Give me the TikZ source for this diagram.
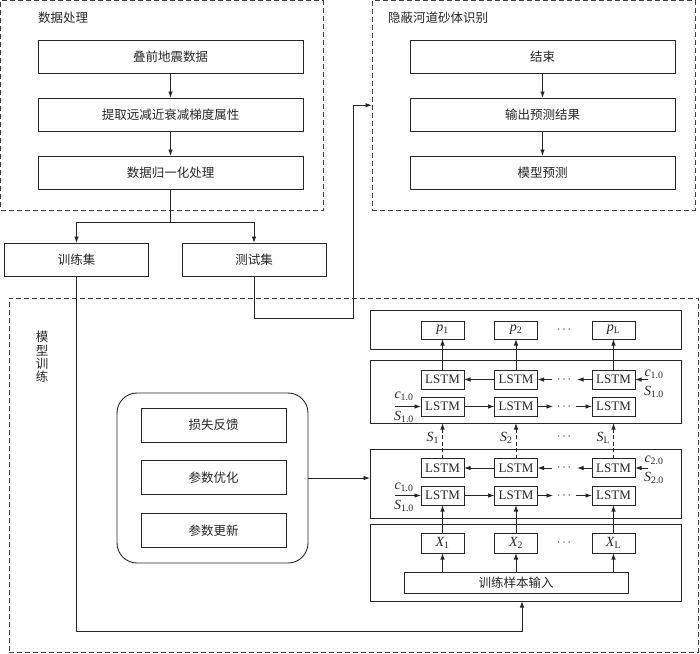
\documentclass[tikz,border=0pt]{standalone}
\usepackage{fontspec}
\setmainfont{Liberation Serif}
\newfontfamily\cjk{Noto Sans CJK SC}
\usetikzlibrary{arrows.meta}
\begin{document}
\begin{tikzpicture}[x=1pt,y=-1pt,
  every node/.style={inner sep=0pt,outer sep=0pt,text=black!85},
  panel/.style={draw=black!75,line width=0.8pt,dash pattern=on 5pt off 3pt},
  box/.style={draw=black!85,line width=0.9pt,font=\cjk\fontsize{12.5}{14}\selectfont},
  frame/.style={draw=black!85,line width=0.9pt},
  sbox/.style={draw=black!85,line width=0.9pt,minimum width=43pt,minimum height=19pt,font=\fontsize{13}{14}\selectfont},
  vbox/.style={sbox,font=\fontsize{14}{14}\selectfont},
  lbl/.style={font=\fontsize{14}{14}\selectfont},
  ttl/.style={font=\cjk\fontsize{12.5}{14}\selectfont},
  arr/.style={draw=black!85,line width=0.9pt,-{Latex[length=6.5pt,width=4.5pt]}},
  darr/.style={arr,dash pattern=on 4pt off 2.5pt},
  dots/.style={font=\fontsize{12}{14}\selectfont}
]
\useasboundingbox (0,0) rectangle (700,653);

% ---------- panels ----------
\node[panel,minimum width=322.5pt,minimum height=209.5pt] (TL) at (161.75,105.25) {};
\node[panel,minimum width=323pt,minimum height=209.5pt] (TR) at (533.5,105.25) {};
\node[panel,minimum width=689pt,minimum height=354pt] (BP) at (353.5,475) {};

\node[ttl,anchor=west] (t1) at (38,18) {数据处理};
\node[ttl,anchor=west] (t2) at (388,18) {隐蔽河道砂体识别};
\node[ttl,align=center,font=\cjk\fontsize{12.5}{13.3}\selectfont] (t3) at (42,357) {模\\型\\训\\练};

% ---------- data processing ----------
\node[box,minimum width=265pt,minimum height=33pt] (d1) at (170.5,56.5) {叠前地震数据};
\node[box,minimum width=265pt,minimum height=33pt] (d2) at (170.5,114.5) {提取远减近衰减梯度属性};
\node[box,minimum width=265pt,minimum height=33pt] (d3) at (170.5,172.5) {数据归一化处理};
\draw[arr] (d1) -- (d2);
\draw[arr] (d2) -- (d3);

\node[box,minimum width=144pt,minimum height=33pt] (train) at (76.5,259.5) {训练集};
\node[box,minimum width=144pt,minimum height=33pt] (test) at (254,259.5) {测试集};
\coordinate (split) at (170.5,222);
\draw[draw=black!85,line width=0.9pt] (d3.south) -- (split);
\draw[arr] (split) -| (train.north);
\draw[arr] (split) -| (test.north);

% ---------- recognition ----------
\node[box,minimum width=265pt,minimum height=33pt] (r1) at (542.5,56.5) {结束};
\node[box,minimum width=265pt,minimum height=33pt] (r2) at (542.5,114.5) {输出预测结果};
\node[box,minimum width=265pt,minimum height=33pt] (r3) at (542.5,172.5) {模型预测};
\draw[arr] (r1) -- (r2);
\draw[arr] (r2) -- (r3);

\coordinate (tbend) at (353,318);
\draw[arr] (test.south) |- (tbend) |- (TR.west);

% ---------- training loop box ----------
\node[draw=black!85,line width=0.9pt,rounded corners=20pt,minimum width=191pt,minimum height=170pt] (rb) at (212.5,478) {};
\node[box,minimum width=145pt,minimum height=34pt] (f1) at (213.5,425) {损失反馈};
\node[box,minimum width=145pt,minimum height=34pt] (f2) at (213.5,477.5) {参数优化};
\node[box,minimum width=145pt,minimum height=34pt] (f3) at (213.5,530.5) {参数更新};

% ---------- network frames ----------
\node[frame,minimum width=311pt,minimum height=39pt] (P) at (525.5,329.5) {};
\node[frame,minimum width=311pt,minimum height=63pt] (L1) at (525.5,391.5) {};
\node[frame,minimum width=311pt,minimum height=69pt] (L2) at (525.5,483.5) {};
\node[frame,minimum width=311pt,minimum height=77pt] (L3) at (525.5,562.5) {};

\draw[arr] (rb.east) -- (rb.east -| L2.west);

% outputs
\node[vbox,minimum height=18pt] (p1) at (442.5,330) {{\itshape p}\textsubscript{1}};
\node[vbox,minimum height=18pt] (p2) at (516,330) {{\itshape p}\textsubscript{2}};
\node[vbox,minimum height=18pt] (pL) at (613.5,330) {{\itshape p}\textsubscript{L}};
\node[dots] (dp) at (564,330) {$\cdots$};

% layer 1
\node[sbox] (u1a) at (442.5,379.5) {LSTM};
\node[sbox] (u1b) at (516,379.5) {LSTM};
\node[sbox] (u1c) at (613.5,379.5) {LSTM};
\node[sbox] (l1a) at (442.5,406.5) {LSTM};
\node[sbox] (l1b) at (516,406.5) {LSTM};
\node[sbox] (l1c) at (613.5,406.5) {LSTM};
\node[dots] (du1) at (564,379.5) {$\cdots$};
\node[dots] (dl1) at (564,406.5) {$\cdots$};

\draw[arr] (u1a.north) -- (p1.south);
\draw[arr] (u1b.north) -- (p2.south);
\draw[arr] (u1c.north) -- (pL.south);

\coordinate (u1d) at (552,379.5);
\coordinate (u1e) at (577,379.5);
\draw[arr] (u1b.west) -- (u1a.east);
\draw[arr] (u1d) -- (u1b.east);
\draw[arr] (u1c.west) -- (u1e);
\coordinate (l1d) at (553,406.5);
\coordinate (l1e) at (576,406.5);
\draw[arr] (l1a.east) -- (l1b.west);
\draw[arr] (l1b.east) -- (l1d);
\draw[arr] (l1e) -- (l1c.west);

\coordinate (in1l) at (395,406.5);
\coordinate (in1r) at (648,379.5);
\draw[arr] (in1l) -- (l1a.west);
\draw[arr] (in1r) -- (u1c.east);
\node[lbl] (c1l) at (404,396) {{\itshape c}\textsubscript{1.0}};
\node[lbl] (s1l) at (404,417) {{\itshape S}\textsubscript{1.0}};
\node[lbl] (c1r) at (654,374) {{\itshape c}\textsubscript{1.0}};
\node[lbl] (s1r) at (654,392) {{\itshape S}\textsubscript{1.0}};

% layer 2
\node[sbox] (u2a) at (442.5,468) {LSTM};
\node[sbox] (u2b) at (516,468) {LSTM};
\node[sbox] (u2c) at (613.5,468) {LSTM};
\node[sbox] (l2a) at (442.5,495.5) {LSTM};
\node[sbox] (l2b) at (516,495.5) {LSTM};
\node[sbox] (l2c) at (613.5,495.5) {LSTM};
\node[dots] (du2) at (564,468) {$\cdots$};
\node[dots] (dl2) at (564,495.5) {$\cdots$};

\coordinate (u2d) at (552,468);
\coordinate (u2e) at (577,468);
\draw[arr] (u2b.west) -- (u2a.east);
\draw[arr] (u2d) -- (u2b.east);
\draw[arr] (u2c.west) -- (u2e);
\coordinate (l2d) at (553,495.5);
\coordinate (l2e) at (576,495.5);
\draw[arr] (l2a.east) -- (l2b.west);
\draw[arr] (l2b.east) -- (l2d);
\draw[arr] (l2e) -- (l2c.west);

\coordinate (in2l) at (395,495.5);
\coordinate (in2r) at (648,468);
\draw[arr] (in2l) -- (l2a.west);
\draw[arr] (in2r) -- (u2c.east);
\node[lbl] (c2l) at (404,487) {{\itshape c}\textsubscript{1.0}};
\node[lbl] (s2l) at (404,506) {{\itshape S}\textsubscript{1.0}};
\node[lbl] (c2r) at (654,460) {{\itshape c}\textsubscript{2.0}};
\node[lbl] (s2r) at (654,478) {{\itshape S}\textsubscript{2.0}};

% dashed links between layers
\draw[darr] (u2a.north) -- (u2a.north |- L1.south);
\draw[darr] (u2b.north) -- (u2b.north |- L1.south);
\draw[darr] (u2c.north) -- (u2c.north |- L1.south);
\node[lbl,anchor=east] (sa) at (439,438) {{\itshape S}\textsubscript{1}};
\node[lbl,anchor=east] (sb) at (512.5,438) {{\itshape S}\textsubscript{2}};
\node[lbl,anchor=east] (sc) at (610,438) {{\itshape S}\textsubscript{L}};
\node[dots] (ds) at (564,437) {$\cdots$};

% layer 3
\node[vbox,minimum height=20pt] (xa) at (442.5,543) {{\itshape X}\textsubscript{1}};
\node[vbox,minimum height=20pt] (xb) at (516,543) {{\itshape X}\textsubscript{2}};
\node[vbox,minimum height=20pt] (xc) at (613.5,543) {{\itshape X}\textsubscript{L}};
\node[dots] (dx) at (564,543) {$\cdots$};
\node[box,minimum width=224pt,minimum height=21pt] (inp) at (516,582.5) {训练样本输入};

\draw[arr] (xa.north) -- (l2a.south);
\draw[arr] (xb.north) -- (l2b.south);
\draw[arr] (xc.north) -- (l2c.south);
\draw[arr] (xa.south |- inp.north) -- (xa.south);
\draw[arr] (xb.south |- inp.north) -- (xb.south);
\draw[arr] (xc.south |- inp.north) -- (xc.south);

% training set path
\coordinate (tp) at (522,631);
\draw[arr] (train.south) |- (tp) -- (tp |- L3.south);

\end{tikzpicture}
\end{document}
